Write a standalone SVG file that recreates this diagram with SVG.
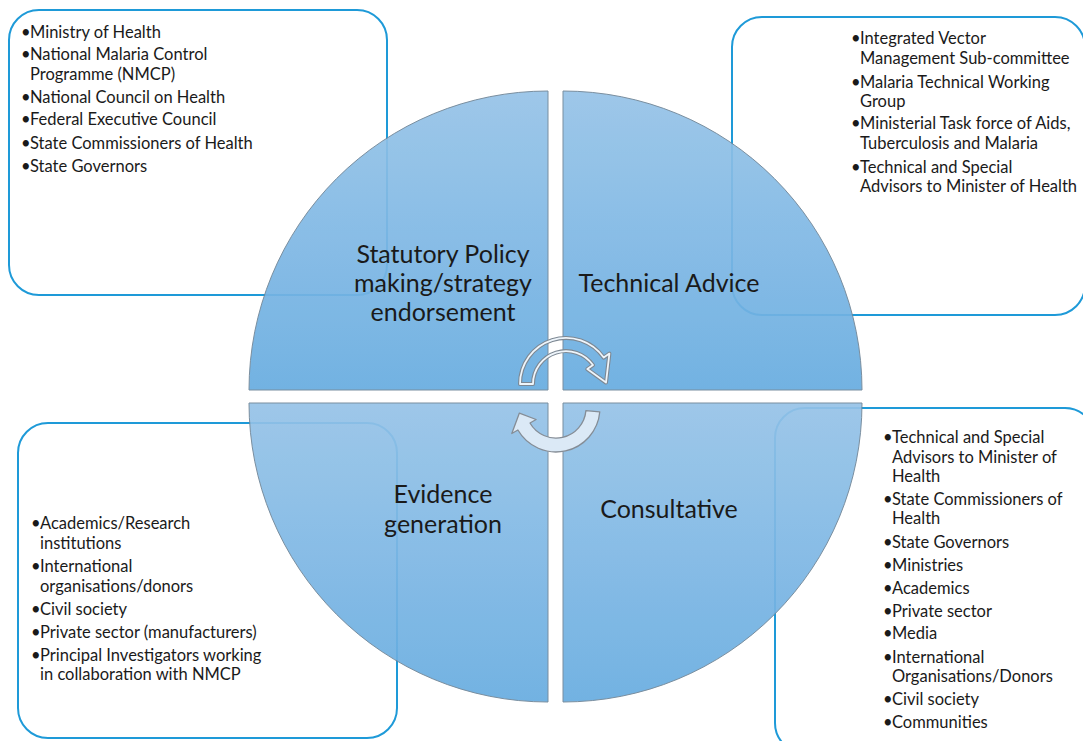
<svg xmlns="http://www.w3.org/2000/svg" width="1083" height="741" viewBox="0 0 1083 741">
<defs>
<linearGradient id="qg" x1="0" y1="0" x2="0" y2="1">
<stop offset="0" stop-color="#96c3e8"/>
<stop offset="1" stop-color="#67ace0"/>
</linearGradient>
<style>
.box{fill:#fff;stroke:#1e9ad8;stroke-width:2}
.quad{fill:url(#qg);stroke:#6f8597;stroke-width:1;opacity:0.92}
.li{font-family:Lato,"Liberation Sans",sans-serif;font-size:16.5px;fill:#1a1a1a}
.big{font-family:Lato,"Liberation Sans",sans-serif;font-size:25px;fill:#1a1a1a;text-anchor:middle}
</style>
</defs>
<rect width="1083" height="741" fill="#fff"/>

<g id="box-statutory">
<rect class="box" x="9" y="10" width="378" height="285" rx="30"/>
<text class="li"><tspan x="21" y="38">•</tspan><tspan x="30" y="38">Ministry of Health</tspan></text>
<text class="li"><tspan x="21" y="60">•</tspan><tspan x="30" y="60">National Malaria Control</tspan><tspan x="30" y="80">Programme (NMCP)</tspan></text>
<text class="li"><tspan x="21" y="103">•</tspan><tspan x="30" y="103">National Council on Health</tspan></text>
<text class="li"><tspan x="21" y="125">•</tspan><tspan x="30" y="125">Federal Executive Council</tspan></text>
<text class="li"><tspan x="21" y="149">•</tspan><tspan x="30" y="149">State Commissioners of Health</tspan></text>
<text class="li"><tspan x="21" y="172">•</tspan><tspan x="30" y="172">State Governors</tspan></text>
</g>

<g id="box-technical">
<rect class="box" x="732" y="17" width="353" height="298" rx="30"/>
<text class="li"><tspan x="851" y="44">•</tspan><tspan x="860" y="44">Integrated Vector</tspan><tspan x="860" y="64">Management Sub-committee</tspan></text>
<text class="li"><tspan x="851" y="88">•</tspan><tspan x="860" y="88">Malaria Technical Working</tspan><tspan x="860" y="107">Group</tspan></text>
<text class="li"><tspan x="851" y="129">•</tspan><tspan x="860" y="129">Ministerial Task force of Aids,</tspan><tspan x="860" y="149">Tuberculosis and Malaria</tspan></text>
<text class="li"><tspan x="851" y="173">•</tspan><tspan x="860" y="173">Technical and Special</tspan><tspan x="860" y="192">Advisors to Minister of Health</tspan></text>
</g>

<g id="box-evidence">
<rect class="box" x="18" y="423" width="379" height="315" rx="30"/>
<text class="li"><tspan x="31" y="529">•</tspan><tspan x="40" y="529">Academics/Research</tspan><tspan x="40" y="549">institutions</tspan></text>
<text class="li"><tspan x="31" y="572">•</tspan><tspan x="40" y="572">International</tspan><tspan x="40" y="592">organisations/donors</tspan></text>
<text class="li"><tspan x="31" y="615">•</tspan><tspan x="40" y="615">Civil society</tspan></text>
<text class="li"><tspan x="31" y="638">•</tspan><tspan x="40" y="638">Private sector (manufacturers)</tspan></text>
<text class="li"><tspan x="31" y="661">•</tspan><tspan x="40" y="661">Principal Investigators working</tspan><tspan x="40" y="680">in collaboration with NMCP</tspan></text>
</g>

<g id="box-consultative">
<rect class="box" x="775" y="408" width="320" height="345" rx="30"/>
<text class="li"><tspan x="883" y="443">•</tspan><tspan x="892" y="443">Technical and Special</tspan><tspan x="892" y="463">Advisors to Minister of</tspan><tspan x="892" y="482">Health</tspan></text>
<text class="li"><tspan x="883" y="505">•</tspan><tspan x="892" y="505">State Commissioners of</tspan><tspan x="892" y="524">Health</tspan></text>
<text class="li"><tspan x="883" y="548">•</tspan><tspan x="892" y="548">State Governors</tspan></text>
<text class="li"><tspan x="883" y="571">•</tspan><tspan x="892" y="571">Ministries</tspan></text>
<text class="li"><tspan x="883" y="594">•</tspan><tspan x="892" y="594">Academics</tspan></text>
<text class="li"><tspan x="883" y="617">•</tspan><tspan x="892" y="617">Private sector</tspan></text>
<text class="li"><tspan x="883" y="639">•</tspan><tspan x="892" y="639">Media</tspan></text>
<text class="li"><tspan x="883" y="663">•</tspan><tspan x="892" y="663">International</tspan><tspan x="892" y="682">Organisations/Donors</tspan></text>
<text class="li"><tspan x="883" y="705">•</tspan><tspan x="892" y="705">Civil society</tspan></text>
<text class="li"><tspan x="883" y="728">•</tspan><tspan x="892" y="728">Communities</tspan></text>
</g>

<g id="quadrant-statutory">
<path class="quad" d="M548 390 L249 390 A299 299 0 0 1 548 91 Z"/>
<text class="big"><tspan x="443" y="263">Statutory Policy</tspan><tspan x="443" y="292">making/strategy</tspan><tspan x="443" y="321">endorsement</tspan></text>
</g>
<g id="quadrant-technical">
<path class="quad" d="M563 390 L563 91 A299 299 0 0 1 862 390 Z"/>
<text class="big" x="669" y="292">Technical Advice</text>
</g>
<g id="quadrant-evidence">
<path class="quad" d="M548 403 L548 702 A299 299 0 0 1 249 403 Z"/>
<text class="big"><tspan x="443" y="503">Evidence</tspan><tspan x="443" y="533">generation</tspan></text>
</g>
<g id="quadrant-consultative">
<path class="quad" d="M563 403 L862 403 A299 299 0 0 1 563 702 Z"/>
<text class="big" x="669" y="518">Consultative</text>
</g>

<g id="connectors">
<path d="M520 384 A46 46 0 0 1 603.7 357.6 L609.4 353.6 L606 382.6 L587.3 369.1 L593 365.1 A33 33 0 0 0 533 384 Z" fill="none" stroke="#7d8893" stroke-width="4" stroke-linejoin="round"/>
<path d="M520 384 A46 46 0 0 1 603.7 357.6 L609.4 353.6 L606 382.6 L587.3 369.1 L593 365.1 A33 33 0 0 0 533 384 Z" fill="none" stroke="#eef5fb" stroke-width="1.8" stroke-linejoin="round"/>
<path d="M599.8 411.8 A44 44 0 0 1 517.9 430 L511.8 433.5 L519.4 413.1 L536.1 419.5 L530 423 A30 30 0 0 0 585.9 410.6 Z" fill="#dbe9f6" stroke="#858d96" stroke-width="1.3" stroke-linejoin="round"/>
</g>
</svg>
